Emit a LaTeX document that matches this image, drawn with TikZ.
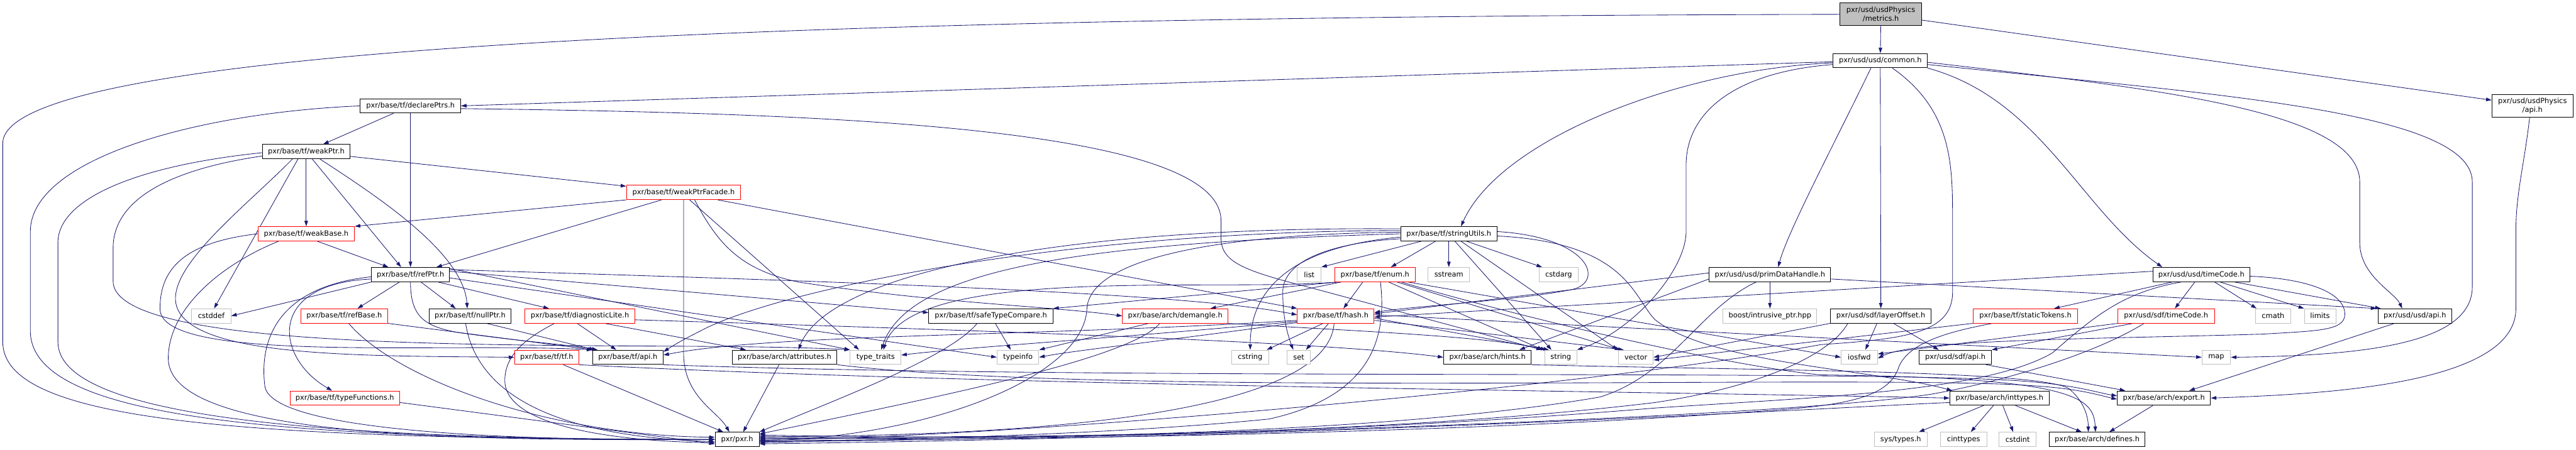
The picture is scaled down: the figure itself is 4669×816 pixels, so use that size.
\documentclass[tikz,border=0pt]{standalone}
\usepackage{fontspec}
\newfontfamily\nodefont{DejaVu Sans}
\usetikzlibrary{arrows.meta,calc}
\definecolor{edgeblue}{HTML}{191970}
\definecolor{rootgray}{HTML}{BFBFBF}
\definecolor{sysgray}{HTML}{BFBFBF}
\definecolor{incred}{HTML}{FF0000}
\pgfdeclarelayer{bg}
\pgfsetlayers{bg,main}
\tikzset{
 bx/.style={draw=black, fill=white, line width=0.6pt, minimum height=0.52cm, inner xsep=2pt, inner ysep=0pt, font=\nodefont\fontsize{7.4}{8.6}\selectfont},
 rbx/.style={bx, draw=incred},
 gbx/.style={bx, draw=sysgray},
 wd/.style={minimum width={#1*0.02cm}},
 conn/.style={draw=edgeblue, line width=0.55pt, -{Triangle[length=0.2cm,width=0.13cm]}},
}
\begin{document}
\begin{tikzpicture}[x=0.02cm,y=-0.02cm]
\useasboundingbox (0,0) rectangle (4669,816);
% ---------------- nodes ----------------
\node[bx, fill=rootgray, wd=148, minimum height=0.82cm, align=center] (metrics) at (3409,26) {pxr/usd/usdPhysics\\/metrics.h};
\node[bx, wd=171] (common) at (3408,110) {pxr/usd/usd/common.h};
\node[bx, wd=147, minimum height=0.8cm, align=center] (physapi) at (4590,192) {pxr/usd/usdPhysics\\/api.h};
\node[bx, wd=182] (declare) at (744,192) {pxr/base/tf/declarePtrs.h};
\node[bx, wd=159] (weakptr) at (555,275) {pxr/base/tf/weakPtr.h};
\node[rbx, wd=207] (facade) at (1239,349) {pxr/base/tf/weakPtrFacade.h};
\node[rbx, wd=175] (weakbase) at (555,424) {pxr/base/tf/weakBase.h};
\node[bx, wd=175] (stringutils) at (2626,424) {pxr/base/tf/stringUtils.h};
\node[bx, wd=141] (refptr) at (744,498) {pxr/base/tf/refPtr.h};
\node[gbx, wd=43] (list) at (2373,498) {list};
\node[rbx, wd=146] (enum) at (2492,498) {pxr/base/tf/enum.h};
\node[gbx, wd=75] (sstream) at (2626,498) {sstream};
\node[gbx, wd=71] (cstdarg) at (2825,498) {cstdarg};
\node[bx, wd=220] (primdata) at (3208,498) {pxr/usd/usd/primDataHandle.h};
\node[bx, wd=175] (usdtimecode) at (3990,498) {pxr/usd/usd/timeCode.h};
\node[gbx, wd=71] (cstddef) at (383,573) {cstddef};
\node[rbx, wd=158] (refbase) at (624,573) {pxr/base/tf/refBase.h};
\node[bx, wd=149] (nullptr) at (852,573) {pxr/base/tf/nullPtr.h};
\node[rbx, wd=199] (diaglite) at (1051,573) {pxr/base/tf/diagnosticLite.h};
\node[bx, wd=225] (safetype) at (1796,573) {pxr/base/tf/safeTypeCompare.h};
\node[rbx, wd=191] (demangle) at (2130,573) {pxr/base/arch/demangle.h};
\node[rbx, wd=139] (hash) at (2421,573) {pxr/base/tf/hash.h};
\node[gbx, wd=170] (boost) at (3208,573) {boost/intrusive\_ptr.hpp};
\node[bx, wd=183] (layeroffset) at (3409,573) {pxr/usd/sdf/layerOffset.h};
\node[rbx, wd=190] (statictokens) at (3671,573) {pxr/base/tf/staticTokens.h};
\node[rbx, wd=175] (sdftimecode) at (3926,573) {pxr/usd/sdf/timeCode.h};
\node[gbx, wd=64] (cmath) at (4120,573) {cmath};
\node[gbx, wd=57] (limits) at (4205,573) {limits};
\node[bx, wd=133] (usdapi) at (4377,573) {pxr/usd/usd/api.h};
\node[rbx, wd=117] (tftf) at (991,648) {pxr/base/tf/tf.h};
\node[bx, wd=128] (tfapi) at (1138,648) {pxr/base/tf/api.h};
\node[bx, wd=190] (attributes) at (1422,648) {pxr/base/arch/attributes.h};
\node[gbx, wd=92] (typetraits) at (1587,648) {type\_traits};
\node[gbx, wd=76] (typeinfo) at (1845,648) {typeinfo};
\node[gbx, wd=67] (cstring) at (2266,648) {cstring};
\node[gbx, wd=42] (set) at (2354,648) {set};
\node[bx, wd=159] (hints) at (2696,648) {pxr/base/arch/hints.h};
\node[gbx, wd=58] (string) at (2829,648) {string};
\node[gbx, wd=63] (vector) at (2965,648) {vector};
\node[gbx, wd=66] (iosfwd) at (3370,648) {iosfwd};
\node[bx, wd=131] (sdfapi) at (3544,648) {pxr/usd/sdf/api.h};
\node[gbx, wd=52] (map) at (4017,648) {map};
\node[rbx, wd=199] (typefunc) at (625,722) {pxr/base/tf/typeFunctions.h};
\node[bx, wd=180] (inttypes) at (3624,722) {pxr/base/arch/inttypes.h};
\node[bx, wd=169] (export) at (3922,722) {pxr/base/arch/export.h};
\node[bx, wd=80] (pxr) at (1336,797) {pxr/pxr.h};
\node[gbx, wd=96] (systypes) at (3445,797) {sys/types.h};
\node[gbx, wd=84] (cinttypes) at (3559,797) {cinttypes};
\node[gbx, wd=67] (cstdint) at (3657,797) {cstdint};
\node[bx, wd=173] (defines) at (3801,797) {pxr/base/arch/defines.h};
% ---------------- edges ----------------
\begin{pgfonlayer}{bg}
% metrics
\draw[conn] (metrics) -- (common);
\draw[conn] (metrics) -- (physapi);
\draw[conn] (metrics.west) .. controls (1500,30) and (5,80) .. (5,260) -- (5,620) .. controls (5,760) and (400,797) .. (pxr.west);
% common
\draw[conn] ($(common.west)+(0,2)$) -- (declare.east);
\draw[conn] ($(common.west)+(0,4)$) .. controls (3050,125) and (2720,250) .. ($(stringutils.north)+(22,0)$);
\draw[conn] ($(common.west)+(0,7)$) .. controls (3150,130) and (3056,200) .. (3056,300) -- (3056,420) .. controls (3056,490) and (2960,600) .. (string.north east);
\draw[conn] ($(common.south)+(-17,0)$) .. controls (3330,250) and (3240,420) .. ($(primdata.north)+(15,0)$);
\draw[conn] (common.south) -- (layeroffset.north);
\draw[conn] ($(common.south)+(22,0)$) .. controls (3539,200) and (3539,300) .. (3539,400) -- (3539,530) .. controls (3539,605) and (3450,615) .. (3300,625) .. controls (2900,700) and (1800,797) .. (pxr.east);
\draw[conn] (common.south east) .. controls (3700,180) and (3770,380) .. ($(usdtimecode.north)+(-71,0)$);
\draw[conn] ($(common.east)+(0,3)$) .. controls (3900,160) and (4277,200) .. (4277,330) -- (4277,440) .. controls (4277,500) and (4340,530) .. ($(usdapi.north)+(-23,0)$);
\draw[conn] ($(common.east)+(0,7)$) .. controls (4000,170) and (4481,200) .. (4481,330) -- (4481,520) .. controls (4481,620) and (4300,645) .. (map.east);
% physics api
\draw[conn] ($(physapi.south)+(-5,0)$) .. controls (4575,300) and (4560,350) .. (4560,420) -- (4560,560) .. controls (4560,700) and (4200,715) .. (export.east);
% declarePtrs
\draw[conn] (declare) -- (weakptr);
\draw[conn] (declare.south) -- (refptr.north);
\draw[conn] (declare.west) .. controls (350,205) and (55,290) .. (55,420) -- (55,600) .. controls (55,760) and (500,797) .. (pxr.west);
\draw[conn] ($(declare.east)+(0,5)$) .. controls (1500,205) and (2213,230) .. (2213,400) -- (2213,430) .. controls (2213,475) and (2250,490) .. (2380,523) -- ($(string.north west)+(-5,0)$);
% weakPtr
\draw[conn] (weakptr) -- (weakbase);
\draw[conn] (weakptr) -- (facade);
\draw[conn] ($(weakptr.south)+(11,0)$) -- ($(refptr.north)+(-17,0)$);
\draw[conn] ($(weakptr.south)+(25,0)$) .. controls (690,360) and (840,460) .. ($(nullptr.north)+(-5,0)$);
\draw[conn] ($(weakptr.south)+(-15,0)$) -- ($(cstddef.north)+(5,0)$);
\draw[conn] ($(weakptr.south)+(-25,0)$) .. controls (450,370) and (320,470) .. (318,540) .. controls (316,650) and (650,645) .. (tftf.west);
\draw[conn] ($(weakptr.west)+(0,2)$) .. controls (250,300) and (105,360) .. (105,440) -- (105,620) .. controls (105,760) and (600,797) .. (pxr.west);
\draw[conn] ($(weakptr.west)+(0,8)$) .. controls (290,310) and (205,370) .. (205,450) -- (205,510) .. controls (205,660) and (1200,615) .. (typetraits.north west);
% weakPtrFacade
\draw[conn] (facade.south west) -- (weakbase.north east);
\draw[conn] ($(facade.south)+(-40,0)$) -- ($(refptr.north)+(47,0)$);
\draw[conn] (facade.south) -- (1239,640) .. controls (1239,720) and (1300,745) .. ($(pxr.north)+(-14,0)$);
\draw[conn] ($(facade.south)+(11,0)$) -- ($(typetraits.north)+(-30,0)$);
\draw[conn] ($(facade.south)+(20,0)$) .. controls (1300,440) and (1340,490) .. (1450,512) .. controls (1700,550) and (1900,555) .. (demangle.west);
\draw[conn] ($(facade.south)+(62,0)$) -- (hash.north west);
% weakBase
\draw[conn] ($(weakbase.south)+(20,0)$) -- ($(refptr.north)+(-40,0)$);
\draw[conn] (weakbase.west) .. controls (330,440) and (290,490) .. (290,560) .. controls (290,660) and (800,620) .. (tfapi.north west);
\draw[conn] ($(weakbase.south)+(-50,0)$) .. controls (400,480) and (305,560) .. (305,650) .. controls (305,790) and (800,800) .. (pxr.west);
% refPtr
\draw[conn] (refptr.south west) -- (cstddef.east);
\draw[conn] ($(refptr.south)+(-20,0)$) -- ($(refbase.north)+(24,0)$);
\draw[conn] ($(refptr.south)+(19,0)$) -- ($(nullptr.north)+(-26,0)$);
\draw[conn] ($(refptr.south)+(50,0)$) -- ($(diaglite.north)+(-56,0)$);
\draw[conn] (refptr.south) .. controls (744,575) and (770,592) .. (830,603) .. controls (950,620) and (1030,625) .. ($(tfapi.north)+(-55,0)$);
\draw[conn] ($(refptr.west)+(0,8)$) .. controls (480,515) and (500,650) .. ($(typefunc.north)+(-23,0)$);
\draw[conn] ($(refptr.west)+(0,4)$) .. controls (500,520) and (470,620) .. (480,700) .. controls (490,780) and (900,800) .. (pxr.west);
\draw[conn] ($(refptr.east)+(0,-6)$) -- ($(safetype.west)+(0,-6)$);
\draw[conn] ($(refptr.east)+(0,-9)$) .. controls (1500,510) and (2150,530) .. ($(hash.west)+(0,-2)$);
\draw[conn] ($(refptr.east)+(0,6)$) -- (typeinfo.west);
\draw[conn] ($(refptr.east)+(0,-11)$) -- (typetraits.north west);
% nullPtr, refBase
\draw[conn] ($(nullptr.south)+(30,0)$) -- ($(tfapi.north)+(-60,0)$);
\draw[conn] ($(nullptr.south)+(-8,0)$) .. controls (860,690) and (960,790) .. ($(pxr.west)+(0,4)$);
\draw[conn] (refbase.south east) -- ($(tfapi.north west)+(2,0)$);
\draw[conn] ($(refbase.south)+(8,0)$) .. controls (720,690) and (1000,790) .. ($(pxr.west)+(0,-4)$);
% diagnosticLite
\draw[conn] ($(diaglite.south)+(-5,0)$) -- ($(tfapi.north)+(-21,0)$);
\draw[conn] ($(diaglite.south)+(45,0)$) -- ($(attributes.north)+(-70,0)$);
\draw[conn] ($(diaglite.east)+(0,7)$) .. controls (1800,600) and (2400,620) .. (hints.west);
\draw[conn] ($(diaglite.south)+(-46,0)$) .. controls (960,610) and (915,640) .. (915,690) .. controls (915,770) and (1100,800) .. ($(pxr.west)+(0,6)$);
% tf.h, tf/api.h, attributes, typeFunctions
\draw[conn] ($(tftf.south)+(30,0)$) -- ($(pxr.north)+(-25,0)$);
\draw[conn] (tftf.south east) .. controls (1800,700) and (3000,710) .. (inttypes.west);
\draw[conn] (tfapi.south east) .. controls (2000,690) and (3300,670) .. (3650,690) .. controls (3760,697) and (3800,712) .. ($(export.west)+(0,-4)$);
\draw[conn] ($(attributes.south)+(-10,0)$) -- ($(pxr.north)+(11,0)$);
\draw[conn] (attributes.south east) .. controls (2000,720) and (3300,680) .. (3660,698) .. controls (3770,704) and (3800,716) .. ($(export.west)+(0,2)$);
\draw[conn] ($(typefunc.east)+(0,8)$) -- ($(pxr.west)+(0,8)$);
% safeTypeCompare, demangle
\draw[conn] ($(safetype.south)+(8,0)$) -- ($(typeinfo.north)+(-13,0)$);
\draw[conn] ($(safetype.south)+(-25,0)$) .. controls (1720,650) and (1500,730) .. (pxr.north east);
\draw[conn] ($(demangle.south)+(-48,0)$) -- (typeinfo.north east);
\draw[conn] ($(demangle.south)+(-28,0)$) .. controls (2050,650) and (1700,720) .. ($(pxr.east)+(0,-10)$);
\draw[conn] (demangle.south east) .. controls (2450,600) and (2700,610) .. ($(string.north west)+(3,0)$);
% hash
\draw[conn] ($(hash.south)+(-23,0)$) -- ($(cstring.north)+(30,0)$);
\draw[conn] ($(hash.south)+(-13,0)$) -- ($(set.north)+(13,0)$);
\draw[conn] ($(hash.south)+(-3,0)$) .. controls (2410,700) and (2150,790) .. ($(pxr.east)+(0,-5)$);
\draw[conn] ($(hash.west)+(0,8)$) .. controls (1900,610) and (1400,605) .. ($(tfapi.east)+(0,-4)$);
\draw[conn] ($(hash.west)+(0,10)$) .. controls (2000,615) and (1750,630) .. ($(typetraits.east)+(0,-4)$);
\draw[conn] ($(hash.west)+(0,12)$) .. controls (2100,620) and (1950,635) .. (typeinfo.east);
\draw[conn] ($(hash.east)+(0,4)$) -- ($(string.north west)+(8,0)$);
\draw[conn] ($(hash.east)+(0,8)$) -- ($(vector.north)+(-22,0)$);
\draw[conn] ($(hash.east)+(0,-2)$) -- (map.west);
% stringUtils
\draw[conn] ($(stringutils.south)+(-50,0)$) -- (list.north east);
\draw[conn] ($(stringutils.south)+(-24,0)$) -- ($(enum.north)+(29,0)$);
\draw[conn] (stringutils.south) -- (sstream.north);
\draw[conn] ($(stringutils.south)+(32,0)$) -- ($(cstdarg.north)+(-30,0)$);
\draw[conn] ($(stringutils.south)+(11,0)$) -- ($(string.north)+(-17,0)$);
\draw[conn] ($(stringutils.south)+(22,0)$) -- ($(vector.north)+(-33,0)$);
\draw[conn] ($(stringutils.west)+(0,6)$) .. controls (2320,450) and (2266,540) .. (cstring.north);
\draw[conn] ($(stringutils.west)+(0,9)$) .. controls (2420,440) and (2325,470) .. (2325,530) .. controls (2325,580) and (2335,610) .. ($(set.north)+(-10,0)$);
\draw[conn] ($(stringutils.west)+(0,-3)$) .. controls (2200,425) and (1975,470) .. (1970,560) .. controls (1965,680) and (1700,790) .. ($(pxr.east)+(0,3)$);
\draw[conn] ($(stringutils.west)+(0,-6)$) .. controls (1900,420) and (1400,530) .. (1270,600) .. controls (1230,620) and (1215,630) .. ($(tfapi.east)+(0,-10)$);
\draw[conn] ($(stringutils.west)+(0,-9)$) .. controls (1900,410) and (1500,500) .. ($(attributes.north)+(25,0)$);
\draw[conn] (stringutils.west) .. controls (2000,440) and (1650,480) .. ($(typetraits.north)+(10,0)$);
\draw[conn] ($(stringutils.east)+(0,-4)$) .. controls (2880,430) and (2910,510) .. (2850,525) .. controls (2750,545) and (2560,555) .. ($(hash.east)+(0,-6)$);
\draw[conn] ($(stringutils.east)+(0,4)$) .. controls (2950,440) and (2960,540) .. (3000,580) .. controls (3100,660) and (3400,670) .. ($(inttypes.north west)+(5,0)$);
% enum
\draw[conn] ($(enum.south)+(-67,0)$) -- (safetype.north east);
\draw[conn] ($(enum.south)+(-61,0)$) -- ($(demangle.north)+(64,0)$);
\draw[conn] ($(enum.south)+(-22,0)$) -- ($(hash.north)+(14,0)$);
\draw[conn] ($(enum.south)+(10,0)$) .. controls (2515,620) and (2480,720) .. (2300,760) .. controls (2000,790) and (1600,797) .. ($(pxr.east)+(0,6)$);
\draw[conn] ($(enum.south)+(25,0)$) -- ($(string.north west)+(-3,0)$);
\draw[conn] ($(enum.south)+(40,0)$) -- ($(vector.north)+(-28,0)$);
\draw[conn] ($(enum.south west)+(5,0)$) .. controls (2200,530) and (1650,480) .. ($(typetraits.north)+(14,0)$);
\draw[conn] ($(enum.south)+(60,0)$) -- (iosfwd.west);
\draw[conn] ($(enum.south)+(48,0)$) .. controls (2700,560) and (3100,660) .. (3300,680) .. controls (3760,685) and (3795,720) .. ($(defines.north)+(-3,0)$);
% primDataHandle
\draw[conn] (primdata) -- (boost);
\draw[conn] ($(primdata.east)+(0,8)$) -- ($(usdapi.north west)+(-3,0)$);
\draw[conn] ($(primdata.south)+(-25,0)$) .. controls (3080,560) and (3030,680) .. (2900,720) .. controls (2500,790) and (1800,797) .. ($(pxr.east)+(0,-2)$);
\draw[conn] ($(primdata.west)+(0,8)$) -- ($(hints.north)+(58,0)$);
\draw[conn] ($(primdata.west)+(0,-3)$) -- ($(hash.east)+(0,-4)$);
% usd timeCode
\draw[conn] ($(usdtimecode.south)+(-53,0)$) -- ($(statictokens.north)+(52,0)$);
\draw[conn] ($(usdtimecode.south)+(-12,0)$) -- ($(sdftimecode.north)+(16,0)$);
\draw[conn] ($(usdtimecode.south)+(24,0)$) -- ($(cmath.north)+(-30,0)$);
\draw[conn] ($(usdtimecode.south)+(34,0)$) -- (limits.north west);
\draw[conn] ($(usdtimecode.south)+(60,0)$) -- ($(usdapi.north west)+(5,0)$);
\draw[conn] ($(usdtimecode.west)+(0,-6)$) -- ($(hash.east)+(0,2)$);
\draw[conn] ($(usdtimecode.south)+(-37,0)$) .. controls (3850,530) and (3800,570) .. (3720,640) .. controls (3600,710) and (3300,720) .. (3000,740) .. controls (2400,790) and (1800,797) .. ($(pxr.east)+(0,-8)$);
\draw[conn] ($(usdtimecode.east)+(0,3)$) .. controls (4180,505) and (4250,530) .. (4250,570) .. controls (4250,600) and (4200,600) .. (4100,606) .. controls (3800,615) and (3470,615) .. ($(iosfwd.east)+(0,2)$);
% layerOffset
\draw[conn] ($(layeroffset.south)+(-7,0)$) -- ($(iosfwd.north)+(11,0)$);
\draw[conn] ($(layeroffset.south)+(23,0)$) -- ($(sdfapi.north)+(-30,0)$);
\draw[conn] (layeroffset.south west) -- (vector.east);
\draw[conn] ($(layeroffset.south)+(-60,0)$) .. controls (3320,640) and (3200,700) .. (3000,730) .. controls (2500,790) and (1800,797) .. ($(pxr.east)+(0,-4)$);
% staticTokens
\draw[conn] (statictokens.south west) -- ($(vector.east)+(0,5)$);
\draw[conn] ($(statictokens.south)+(-60,0)$) .. controls (3540,600) and (3455,620) .. (3440,670) .. controls (3420,720) and (3350,735) .. (3200,745) .. controls (2600,790) and (1800,797) .. ($(pxr.east)+(0,2)$);
% sdf timeCode
\draw[conn] (sdftimecode.south west) -- ($(iosfwd.east)+(0,-6)$);
\draw[conn] ($(sdftimecode.south)+(-60,0)$) -- (sdfapi.north east);
\draw[conn] ($(sdftimecode.south)+(-40,0)$) .. controls (3800,640) and (3640,690) .. (3500,715) .. controls (3200,760) and (2000,797) .. ($(pxr.east)+(0,4)$);
% api headers, export, inttypes, hints
\draw[conn] ($(sdfapi.south east)+(-10,0)$) -- ($(export.north)+(-70,0)$);
\draw[conn] ($(usdapi.south)+(-37,0)$) -- ($(export.north)+(46,0)$);
\draw[conn] ($(export.south)+(-20,0)$) -- ($(defines.north)+(22,0)$);
\draw[conn] ($(inttypes.south)+(-29,0)$) -- ($(systypes.north)+(33,0)$);
\draw[conn] ($(inttypes.south)+(-11,0)$) -- ($(cinttypes.north)+(13,0)$);
\draw[conn] ($(inttypes.south)+(6,0)$) -- ($(cstdint.north)+(-8,0)$);
\draw[conn] ($(inttypes.south)+(29,0)$) -- ($(defines.north)+(-28,0)$);
\draw[conn] ($(inttypes.west)+(0,8)$) .. controls (3300,740) and (2500,790) .. ($(pxr.east)+(0,8)$);
\draw[conn] (hints.south east) .. controls (3200,672) and (3700,672) .. (3750,705) .. controls (3780,730) and (3785,760) .. ($(defines.north)+(-16,0)$);
\end{pgfonlayer}
\end{tikzpicture}
\end{document}
